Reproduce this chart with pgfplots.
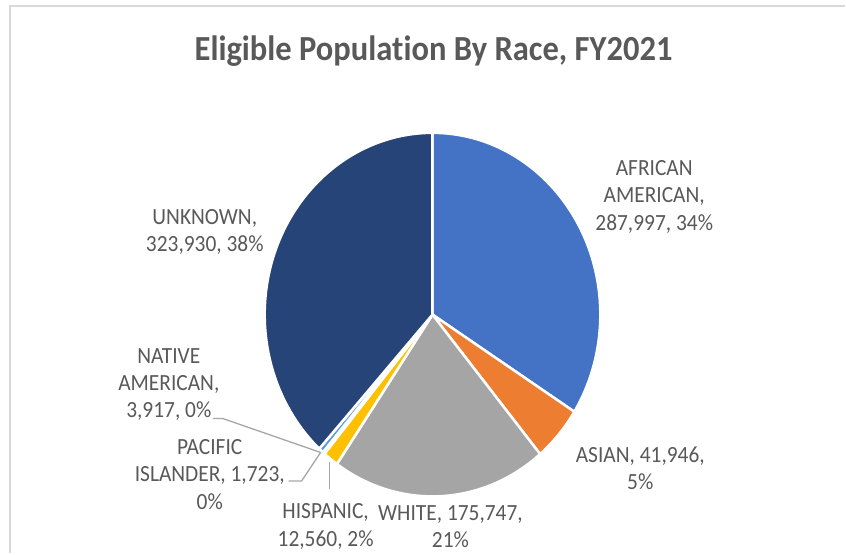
\documentclass[border=0pt]{standalone}
\usepackage{pgfplots}
\pgfplotsset{compat=1.18}
\usepackage{pgfplotstable}
\usepackage{fontspec}
\setmainfont[Ligatures=NoCommon]{Carlito}
\definecolor{txt}{HTML}{595959}
\definecolor{frame}{HTML}{D9D9D9}
\definecolor{lead}{HTML}{A6A6A6}
\definecolor{col0}{HTML}{4472C4}
\definecolor{col1}{HTML}{ED7D31}
\definecolor{col2}{HTML}{A5A5A5}
\definecolor{col3}{HTML}{FFC000}
\definecolor{col4}{HTML}{70AD47}
\definecolor{col5}{HTML}{5B9BD5}
\definecolor{col6}{HTML}{264478}

\pgfplotstableread{
label value
AfricanAmerican 287997
Asian 41946
White 175747
Hispanic 12560
PacificIslander 1723
NativeAmerican 3917
Unknown 323930
}\datatable

\begin{document}
\begin{tikzpicture}
% totals and slice angles from the table
\def\total{0}
\pgfplotsforeachungrouped \i in {0,...,6}{%
  \pgfplotstablegetelem{\i}{value}\of\datatable
  \edef\total{\fpeval{\total+\pgfplotsretval}}%
}
\def\cum{0}
\def\slices{}
\pgfplotsforeachungrouped \i in {0,...,6}{%
  \pgfplotstablegetelem{\i}{value}\of\datatable
  \edef\v{\pgfplotsretval}%
  \edef\sa{\fpeval{round(90-360*\cum/\total,4)}}%
  \edef\cum{\fpeval{\cum+\v}}%
  \edef\ea{\fpeval{round(90-360*\cum/\total,4)}}%
  \xdef\slices{\unexpanded\expandafter{\slices}%
    \noexpand\fill[fill=col\i, draw=white, line width=2.5bp, line join=round]
      (axis cs:433,239) -- ++(\sa:168bp and 182bp)
      arc[start angle=\sa, end angle=\ea, x radius=168bp, y radius=182bp] -- cycle;}%
}
\begin{axis}[
  x=1bp, y=1bp,
  xmin=0, xmax=846, ymin=0, ymax=554,
  hide axis, clip=false,
  at={(0,0)}, anchor=south west,
]
\path (axis cs:0,0) rectangle (axis cs:846,554);
\draw[frame, line width=2bp] (axis cs:10.5,0) -- (axis cs:10.5,548) -- (axis cs:846,548);
\slices
% leader lines
\draw[lead, line width=1.3bp] (axis cs:213,135) -- (axis cs:223,135) -- (axis cs:321,101);
\draw[lead, line width=1.3bp] (axis cs:289,72.5) -- (axis cs:302,72.5) -- (axis cs:321,101);
\draw[lead, line width=1.3bp] (axis cs:330,91.5) -- (axis cs:330,64);
% title
\node[anchor=base, text=txt, yscale=1.083, transform shape, inner sep=0pt]
  at (axis cs:434,493.7) {\fontsize{32.7}{38}\selectfont\bfseries Eligible Population By Race, FY2021};
% labels
\tikzset{lbl/.style={text=txt, align=center, yscale=1.083, transform shape, inner sep=0pt,
  font=\fontsize{21.5}{25.4}\selectfont}}
\node[lbl] at (axis cs:655,357) {AFRICAN\\AMERICAN,\\287,997, 34\%};
\node[lbl] at (axis cs:641,85) {ASIAN, 41,946,\\5\%};
\node[lbl] at (axis cs:451,27) {WHITE, 175,747,\\21\%};
\node[lbl] at (axis cs:326,27) {HISPANIC,\\12,560, 2\%};
\node[lbl] at (axis cs:210,79) {PACIFIC\\ISLANDER, 1,723,\\0\%};
\node[lbl] at (axis cs:169,169) {NATIVE\\AMERICAN,\\3,917, 0\%};
\node[lbl] at (axis cs:205,322) {UNKNOWN,\\323,930, 38\%};
\end{axis}
\end{tikzpicture}
\end{document}
